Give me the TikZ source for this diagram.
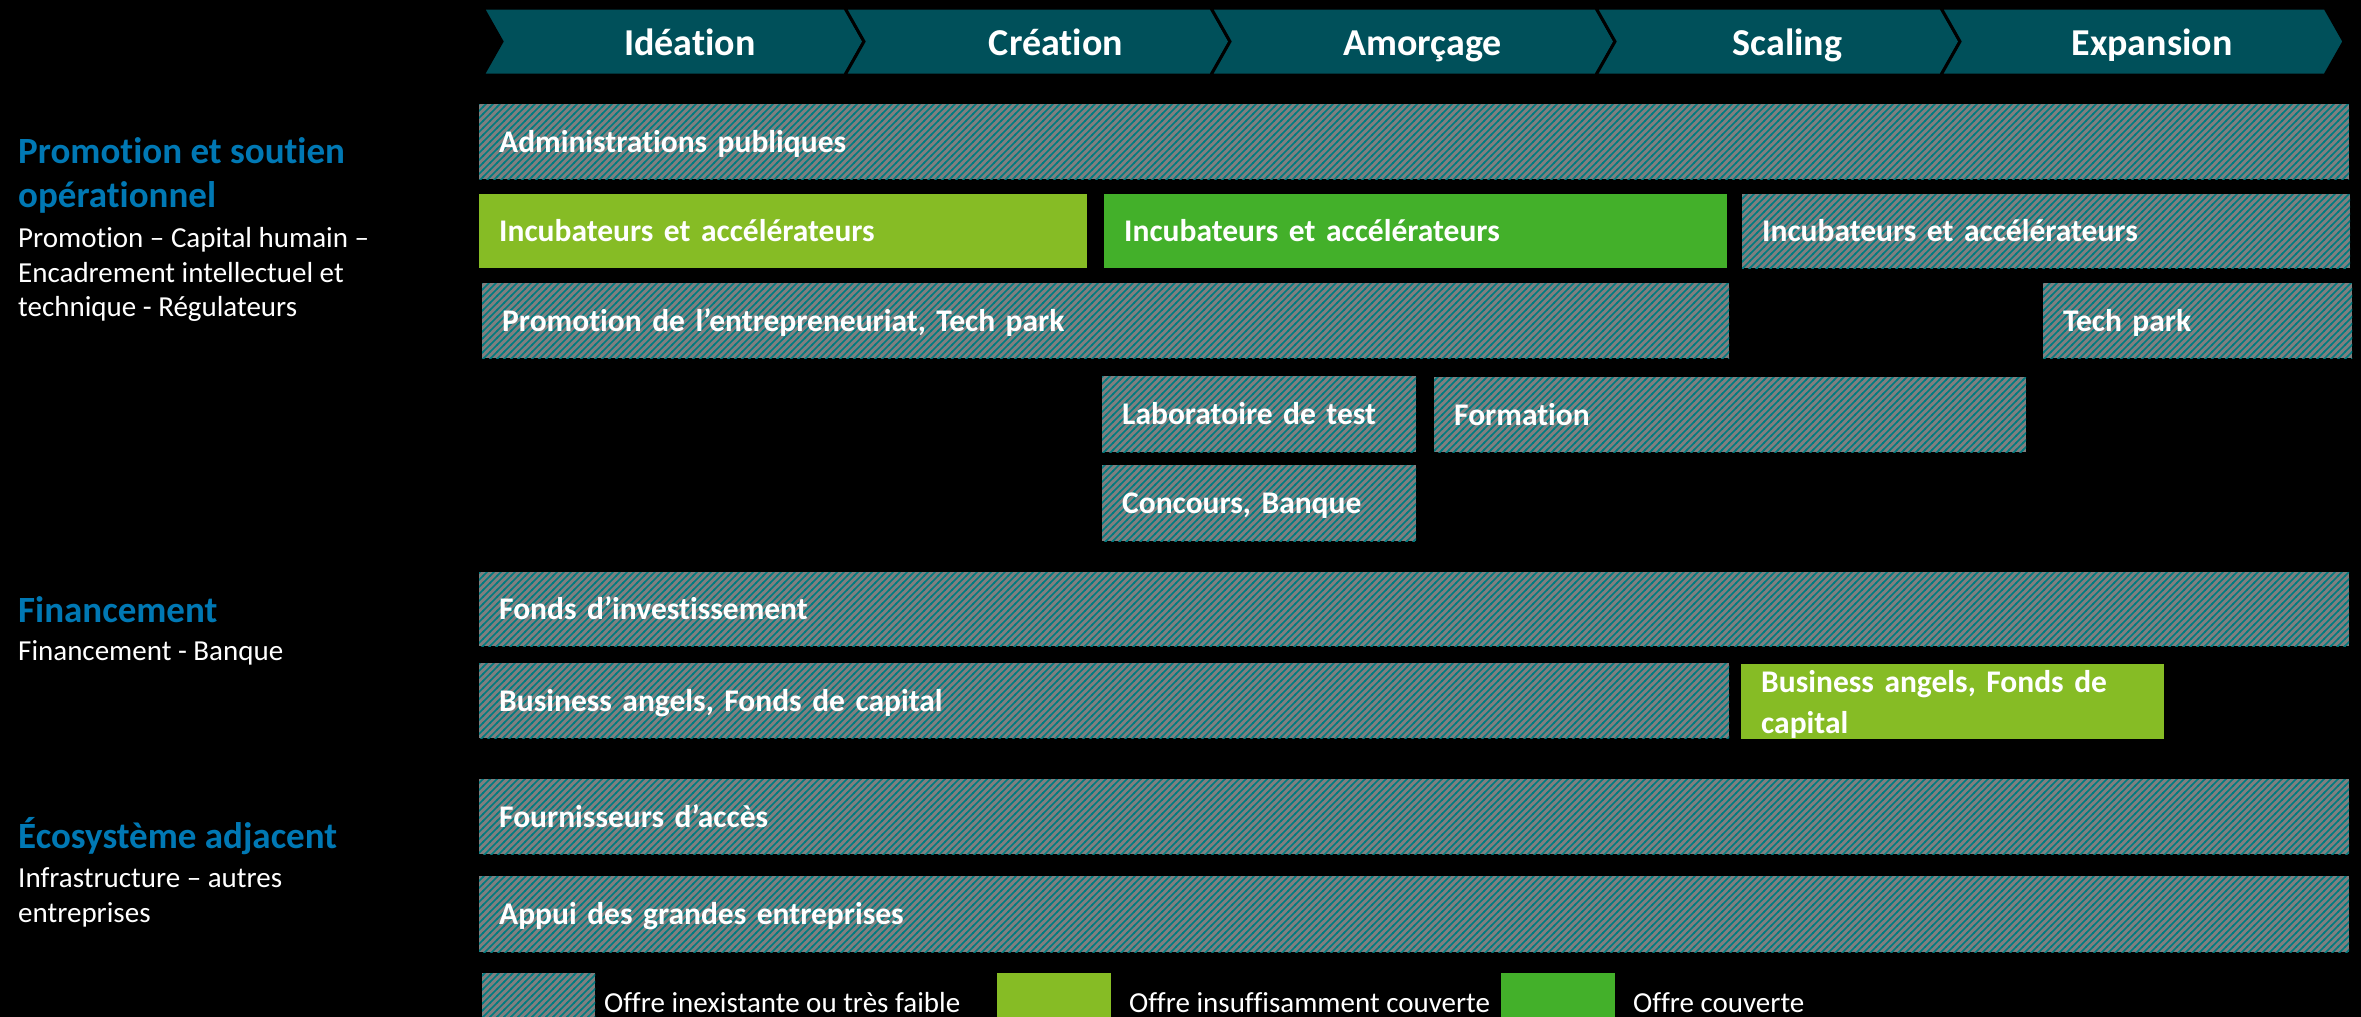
\documentclass[tikz,border=0pt]{standalone}
\usepackage{fontspec}
\setmainfont{Carlito}[Ligatures={NoCommon}]
\usetikzlibrary{patterns}
\definecolor{chev}{HTML}{00505A}
\definecolor{lgreen}{HTML}{86BC25}
\definecolor{dgreen}{HTML}{43B02A}
\definecolor{hblue}{HTML}{0078B4}
\definecolor{hgray}{HTML}{7F7F7F}
\definecolor{hteal}{HTML}{007B80}
\pgfdeclarepatternformonly{nelinesx}{\pgfqpoint{-1pt}{-1pt}}{\pgfqpoint{8pt}{8pt}}{\pgfqpoint{7pt}{7pt}}{%
  \pgfsetlinewidth{1.7pt}%
  \pgfpathmoveto{\pgfqpoint{-1pt}{-1pt}}%
  \pgfpathlineto{\pgfqpoint{8pt}{8pt}}%
  \pgfusepath{stroke}}
\newcommand\cellbox[7]{%
  \pgfmathsetmacro\cbw{#5-#3}\pgfmathsetmacro\cbh{#6-#4}\pgfmathsetmacro\cbt{#5-#3-40}%
  \node[#1, anchor=north west, inner xsep=20pt, inner ysep=0pt,
        minimum width=\cbw pt, minimum height=\cbh pt, text width=\cbt pt,
        align=left] (#2) at (#3,#4) {#7};}
\begin{document}
\begin{tikzpicture}[x=1pt,y=-1pt,
  hatch/.style={fill=hgray, postaction={pattern=nelinesx, pattern color=hteal}},
  lg/.style={fill=lgreen},
  dg/.style={fill=dgreen},
  boxtxt/.style={text=white, font=\bfseries\fontsize{31.5}{41}\selectfont},
  oneline/.style={text height=21pt, text depth=0pt},
  chevshape/.style={fill=chev, draw=black, line width=3pt, line join=miter},
  chevtxt/.style={text=white, font=\bfseries\fontsize{38}{40}\selectfont, inner sep=0pt, anchor=base},
  headtxt/.style={text=hblue, font=\bfseries\fontsize{37}{44}\selectfont, anchor=base west, inner sep=0pt},
  bodytxt/.style={text=white, font=\fontsize{29}{34}\selectfont, anchor=base west, inner sep=0pt},
  legtxt/.style={text=white, font=\fontsize{29}{34}\selectfont, anchor=base west, inner sep=0pt}
]
\useasboundingbox[fill=black] (0,0) rectangle (2361,1017);

% chevrons
\def\cd{19}
\foreach \a/\b/\t/\dx [count=\i] in {483/845/Idéation/7,845/1211/Création/9,1211/1596/Amorçage/0,1596/1941/Scaling/0,1941/2325/Expansion/0}{
  \draw[chevshape] (\a,8) -- (\b,8) -- (\b+\cd,41.5) -- (\b,75) -- (\a,75) -- (\a+\cd,41.5) -- cycle;
  \node[chevtxt] (ch\i) at ({(\a+\b)/2+\cd+\dx},55) {\t};
}

% left labels
\node[headtxt] (h1a) at (18,163) {Promotion et soutien};
\node[headtxt] (h1b) at (18,207) {opérationnel};
\node[bodytxt] (b1a) at (18,247) {Promotion – Capital humain –};
\node[bodytxt] (b1b) at (18,282) {Encadrement intellectuel et};
\node[bodytxt] (b1c) at (18,316) {technique - Régulateurs};
\node[headtxt] (h2) at (18,622) {Financement};
\node[bodytxt] (b2) at (18,660) {Financement - Banque};
\node[headtxt] (h3) at (18,848) {Écosystème adjacent};
\node[bodytxt] (b3a) at (18,887) {Infrastructure – autres};
\node[bodytxt] (b3b) at (18,922) {entreprises};

% boxes
\cellbox{hatch,boxtxt,oneline}{admin}{479}{104}{2349}{179}{Administrations publiques}
\cellbox{lg,boxtxt,oneline}{inc1}{479}{194}{1087}{268}{Incubateurs et accélérateurs}
\cellbox{dg,boxtxt,oneline}{inc2}{1104}{194}{1727}{268}{Incubateurs et accélérateurs}
\cellbox{hatch,boxtxt,oneline}{inc3}{1742}{194}{2350}{268}{Incubateurs et accélérateurs}
\cellbox{hatch,boxtxt,oneline}{promo}{482}{283}{1729}{358}{Promotion de l’entrepreneuriat, Tech park}
\cellbox{hatch,boxtxt,oneline}{tech}{2043}{283}{2352}{358}{Tech park}
\cellbox{hatch,boxtxt,oneline}{labo}{1102}{376}{1416}{452}{Laboratoire de test}
\cellbox{hatch,boxtxt,oneline}{form}{1434}{377}{2026}{452}{Formation}
\cellbox{hatch,boxtxt,oneline}{conc}{1102}{465}{1416}{541}{Concours, Banque}
\cellbox{hatch,boxtxt,oneline}{fonds}{479}{572}{2349}{646}{Fonds d’investissement}
\cellbox{hatch,boxtxt,oneline}{ba1}{479}{663}{1729}{738}{Business angels, Fonds de capital}
\cellbox{lg,boxtxt}{ba2}{1741}{664}{2164}{739}{\rule{0pt}{27pt}Business angels, Fonds de\\capital}
\cellbox{hatch,boxtxt,oneline}{fourn}{479}{779}{2349}{854}{Fournisseurs d’accès}
\cellbox{hatch,boxtxt,oneline}{appui}{479}{876}{2349}{952}{Appui des grandes entreprises}

% legend
\path[hatch] (482,973) rectangle (595,1017);
\node[legtxt] (l1) at (604,1012) {Offre inexistante ou très faible};
\path[lg] (997,973) rectangle (1111,1017);
\node[legtxt] (l2) at (1129,1012) {Offre insuffisamment couverte};
\path[dg] (1501,973) rectangle (1615,1017);
\node[legtxt] (l3) at (1633,1012) {Offre couverte};
\end{tikzpicture}
\end{document}
